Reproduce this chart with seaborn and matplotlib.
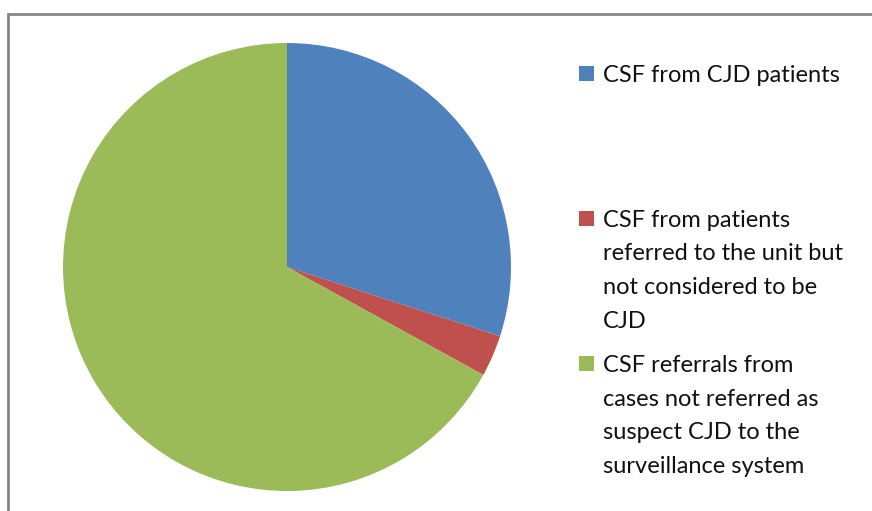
import matplotlib.pyplot as plt
import matplotlib.patches as mpatches
import seaborn as sns

# data
labels = [
    "CSF from CJD patients",
    "CSF from patients\nreferred to the unit but\nnot considered to be\nCJD",
    "CSF referrals from\ncases not referred as\nsuspect CJD to the\nsurveillance system",
]
shares = [30, 3, 67]
colors = ["#4F81BD", "#C0504D", "#9BBB59"]

sns.set_theme(style="white")
plt.rcParams["font.family"] = ["Lato", "DejaVu Sans"]

W, H = 872, 511
fig = plt.figure(figsize=(W / 100, H / 100), dpi=100)

# outer chart border (gray, runs off right/bottom edge)
fig.patches.append(mpatches.Rectangle((8 / W, -0.1), 1.2, (H - 14) / H + 0.1,
                                      transform=fig.transFigure, fill=False,
                                      edgecolor="#868686", linewidth=2))

# pie centered at (287, 267) px with radius 224 px
cx, cy, r = 287, 267, 224
ax = fig.add_axes([(cx - r) / W, (H - cy - r) / H, 2 * r / W, 2 * r / H])
wedges, _ = ax.pie(shares, colors=colors, startangle=90, counterclock=False,
                   radius=1, wedgeprops=dict(linewidth=0))
ax.set_xlim(-1, 1)
ax.set_ylim(-1, 1)
ax.axis("off")

# legend drawn by hand so each entry sits where Excel put it
baselines = [82, 227, 372]
line_gap = 33.5
for wedge, label, base in zip(wedges, labels, baselines):
    fig.patches.append(mpatches.Rectangle((579 / W, (H - base + 1) / H), 15 / W, 15 / H,
                                          transform=fig.transFigure,
                                          facecolor=wedge.get_facecolor(),
                                          edgecolor="none"))
    for i, line in enumerate(label.split("\n")):
        fig.text(603 / W, (H - base - i * line_gap) / H, line, fontsize=17,
                 color="#111111", va="baseline", ha="left")

fig.savefig("out.png", dpi=100)
